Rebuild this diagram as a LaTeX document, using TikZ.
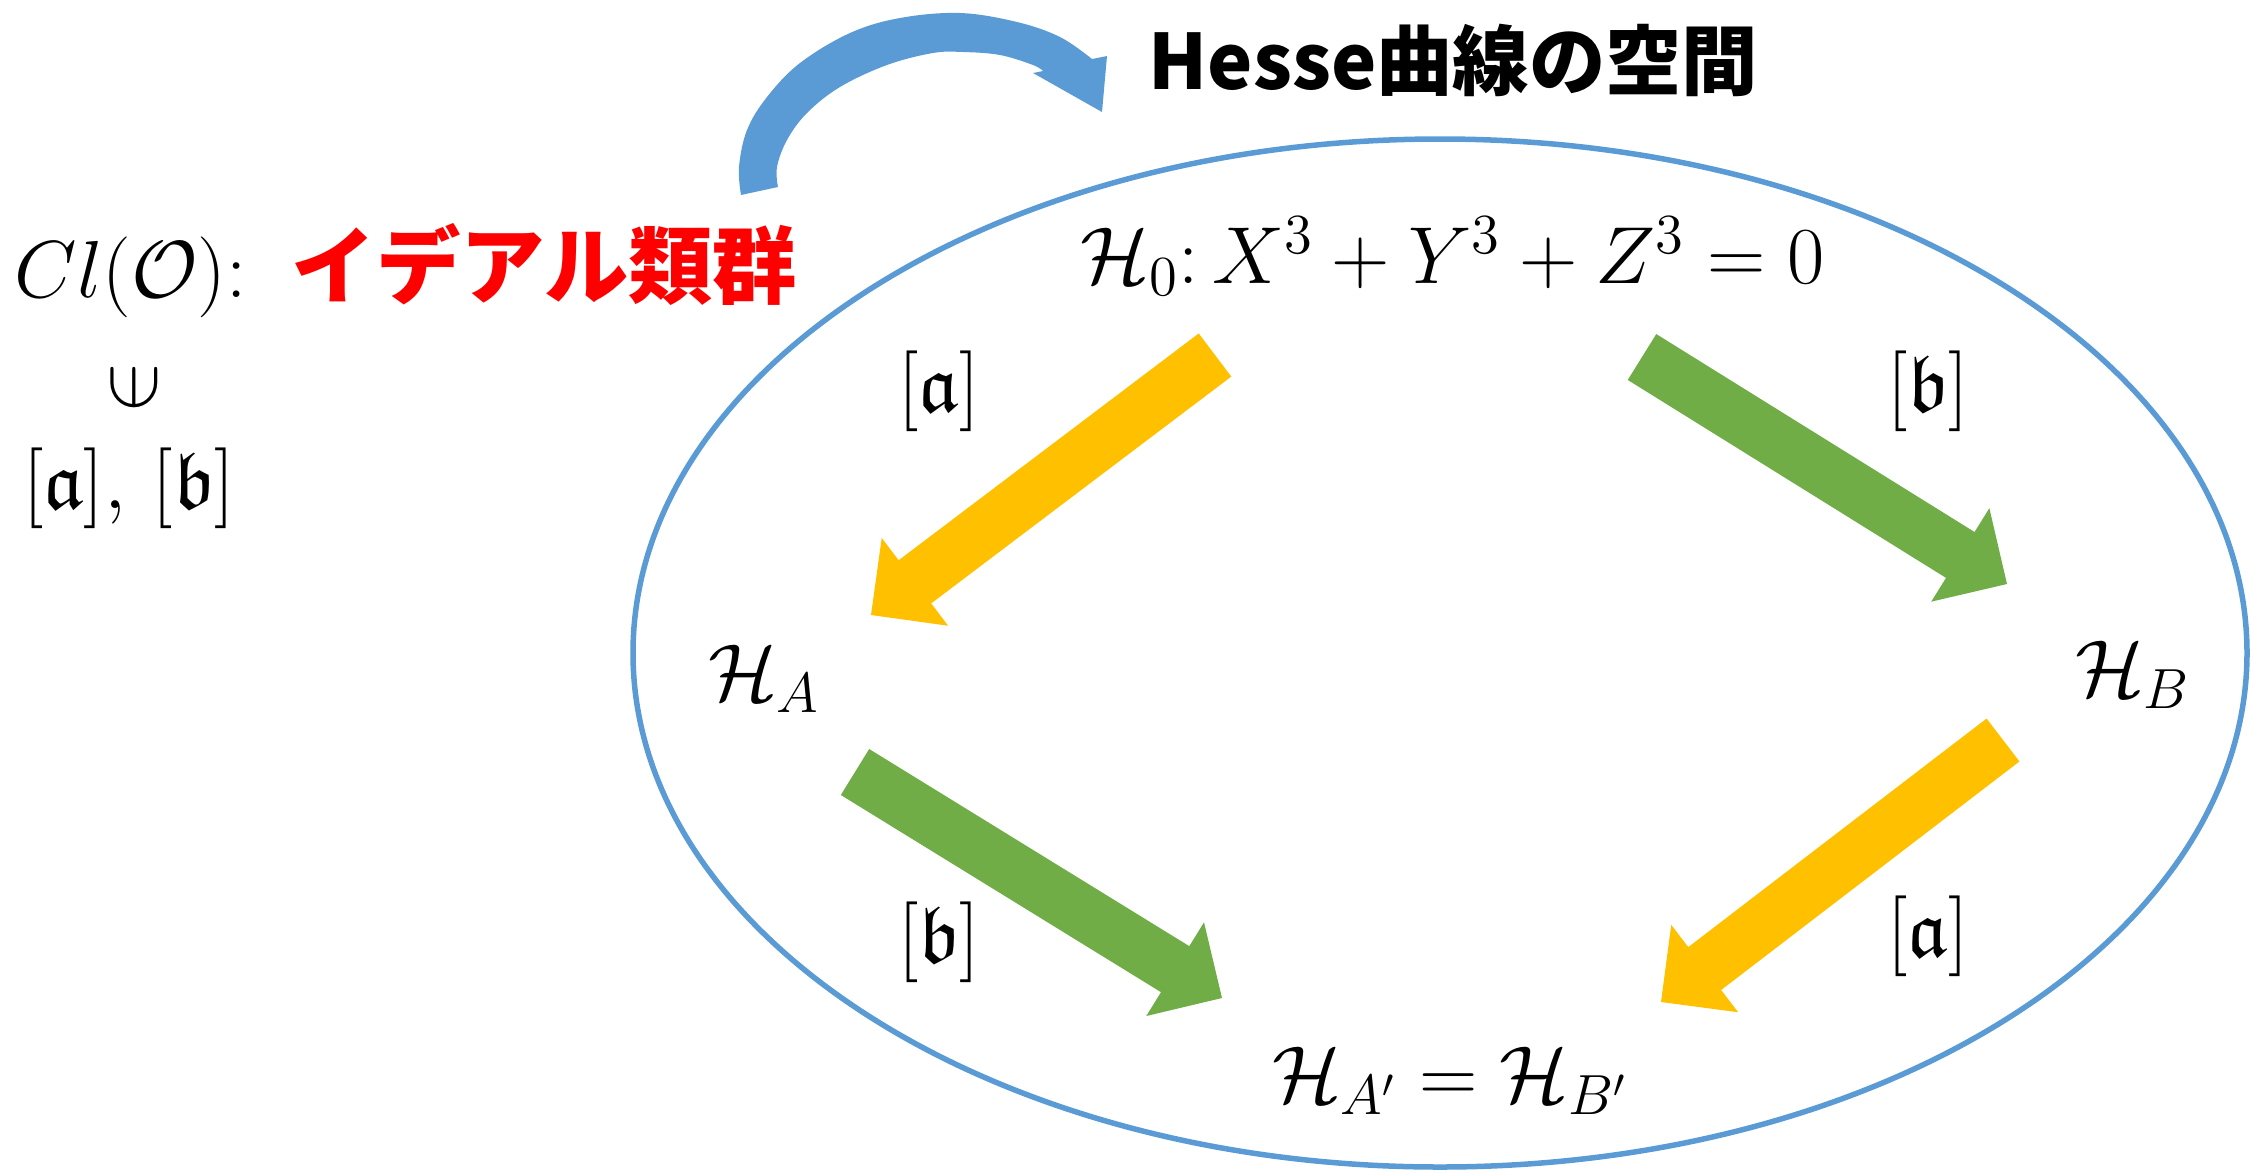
\RequirePackage{fix-cm}
\documentclass[tikz,border=0pt]{standalone}
\usepackage{amssymb}
\usepackage{fontspec}
\newfontfamily\cjk{Noto Sans CJK JP}
\usetikzlibrary{calc}
\definecolor{ellblue}{HTML}{5B9BD5}
\definecolor{arryellow}{HTML}{FFC000}
\definecolor{arrgreen}{HTML}{70AD47}
\definecolor{jred}{HTML}{FF0000}
% fat straight arrow: #1 style, #2 tail, #3 tip
\newcommand{\fatarrow}[3]{%
  \coordinate (fa-c) at ($(#3)!0.55cm!(#2)$);
  \fill[#1] ($(#2)!0.27cm!90:(#3)$) -- ($(fa-c)!0.27cm!-90:(#2)$)
     -- ($(fa-c)!0.55cm!-90:(#2)$) -- (#3) -- ($(fa-c)!0.55cm!90:(#2)$)
     -- ($(fa-c)!0.27cm!90:(#2)$) -- ($(#2)!0.27cm!-90:(#3)$) -- cycle;
}
\tikzset{
  mathlbl/.style={font=\fontsize{23}{28}\selectfont, inner sep=0pt},
  jptitle/.style={font=\cjk\bfseries\fontsize{21.7}{26}\selectfont, inner sep=0pt},
  jpred/.style={font=\cjk\bfseries\fontsize{24}{28}\selectfont, text=jred, inner sep=0pt},
  ellline/.style={draw=ellblue, line width=0.055cm},
}
\begin{document}
\begin{tikzpicture}[x=0.01cm, y=-0.01cm]
\useasboundingbox (0,0) rectangle (2251,1172);

% the space of Hesse curves
\draw[ellline] (1440,653) ellipse [x radius=807, y radius=514];

% curved blue arrow
\fill[ellblue] plot[smooth, tension=0.6] coordinates {(741,195) (739,167) (747,130) (767,97) (800,63) (850,33) (900,18) (960,13) (1017,22) (1060,37) (1092,59)}
  -- (1107,56) -- (1102,112) -- (1033,73)
  -- plot[smooth, tension=0.6] coordinates {(1043,71) (1033,65) (1000,55) (963,52) (933,53) (887,65) (840,87) (807,113) (787,140) (777,167) (778,187)}
  -- cycle;

% left text
\node[mathlbl, anchor=base west] (cl) at (14,297) {$Cl(\mathcal{O})\colon$};
\node[jpred, anchor=base west] (ideal) at (291,297) {イデアル類群};
\node[mathlbl, rotate=90] (elem) at (134,388) {$\in$};
\node[mathlbl] (ab) at (129,488) {$[\mathfrak{a}],\,[\mathfrak{b}]$};

% title
\node[jptitle, anchor=west] (title) at (1148,60) {Hesse曲線の空間};

% curves
\node[mathlbl, anchor=base] (h0) at (1453,283) {$\mathcal{H}_0\colon X^3+Y^3+Z^3=0$};
\node[mathlbl, anchor=base] (ha) at (764,700) {$\mathcal{H}_A$};
\node[mathlbl, anchor=base] (hb) at (2133,696) {$\mathcal{H}_B$};
\node[mathlbl, anchor=base] (hab) at (1450,1102) {$\mathcal{H}_{A'}=\mathcal{H}_{B'}$};

% arrow labels
\node[mathlbl] (la1) at (939,391) {$[\mathfrak{a}]$};
\node[mathlbl] (lb1) at (1928,391) {$[\mathfrak{b}]$};
\node[mathlbl] (lb2) at (939,942) {$[\mathfrak{b}]$};
\node[mathlbl] (la2) at (1928,936) {$[\mathfrak{a}]$};

% arrows
\coordinate (y1s) at (1215,355); \coordinate (y1e) at (871,615);
\coordinate (g1s) at (1642,357); \coordinate (g1e) at (2007,584);
\coordinate (y2s) at (2003,740); \coordinate (y2e) at (1661,1002);
\coordinate (g2s) at (855,772);  \coordinate (g2e) at (1222,998);
\fatarrow{arryellow}{y1s}{y1e}
\fatarrow{arrgreen}{g1s}{g1e}
\fatarrow{arryellow}{y2s}{y2e}
\fatarrow{arrgreen}{g2s}{g2e}
\end{tikzpicture}
\end{document}
